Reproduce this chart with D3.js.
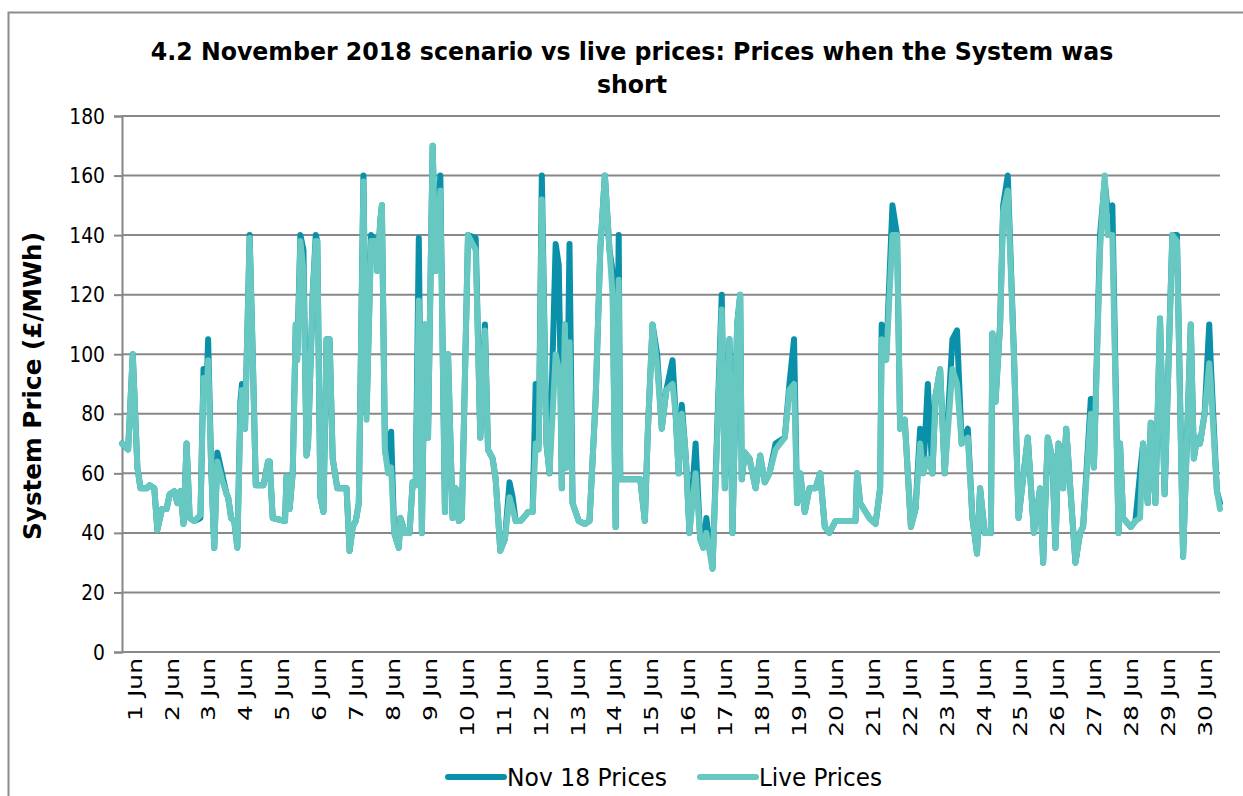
<!DOCTYPE html>
<html>
<head>
<meta charset="utf-8">
<script src="https://cdn.jsdelivr.net/npm/d3@7"></script>
<style>
  body { margin: 0; background: #fff; }
  svg text { font-family: Verdana, "DejaVu Sans", sans-serif; fill: #000; }
</style>
</head>
<body>
<div id="chart"></div>
<script>
// hours since 1 Jun 00:00
const hours = [0,4,7,10,12,16,18,21,23,26,29,31,34,36,38,40,42,44,47,51,53,55,56,58,60,62,65,68,69,71,73,75,77,78,80,83,85,87,92,95,96,98,106,107,109,111,113,114,116,118,120,121,124,126,127,129,131,133,135,137,140,146,148,150,152,154,157,159,162,165,166,168,169,171,173,175,177,180,181,184,187,189,191,193,195,197,199,202,204,207,210,212,215,217,219,221,225,230,233,236,238,241,243,246,249,252,254,256,259,261,264,267,269,271,273,276,278,282,284,285,286,288,289,291,293,297,301,304,308,311,314,317,319,321,323,324,337,340,342,345,348,351,354,358,360,362,364,366,367,369,373,376,378,380,384,390,392,395,397,400,402,403,405,408,412,415,418,421,425,431,434,437,439,441,444,447,451,454,457,460,464,477,478,480,486,490,493,494,497,501,504,506,509,513,516,519,521,524,527,529,532,535,540,543,546,550,553,556,558,561,565,566,568,571,573,576,580,583,589,593,597,599,602,605,607,609,612,614,620,623,625,630,632,636,639,641,644,648,649,651,656,659,662,664,667,669,672,675,678,683,686,690,695,697,699,701,704,707,708,712,714];

const nov18Prices = [70,68,100,62,55,55,56,55,41,48,48,53,54,50,54,43,70,45,44,45,95,88,105,62,35,67,60,53,52,45,44,35,84,90,75,140,100,56,56,64,64,45,44,59,48,60,110,100,140,135,66,70,120,140,138,52,47,105,105,65,55,55,34,42,44,50,160,80,140,138,128,145,150,68,62,74,40,35,45,40,40,57,56,139,40,110,72,170,128,160,47,100,45,55,44,45,140,139,72,110,68,65,58,34,38,57,52,44,44,45,47,47,90,70,160,70,60,137,130,100,55,110,62,137,50,44,43,44,85,135,160,135,128,42,140,58,58,44,75,110,100,75,88,98,80,60,83,70,62,40,70,38,35,45,28,120,55,105,40,110,120,58,67,65,55,66,57,60,70,72,90,105,50,60,47,55,55,60,42,40,44,44,60,50,45,43,55,110,100,150,140,75,78,42,48,75,60,90,60,86,95,60,105,108,70,75,45,33,55,40,40,107,84,110,150,160,100,45,72,40,55,30,72,65,35,70,55,75,30,40,42,85,62,140,158,148,150,40,70,45,42,44,60,70,50,77,50,112,53,140,140,32,110,65,72,70,80,110,97,54,50];

const livePrices = [70,68,100,62,55,55,56,55,41,48,48,53,54,50,54,43,70,45,44,46,92,86,98,62,35,64,58,53,52,45,44,35,80,88,75,139,100,56,56,64,64,45,44,59,48,60,110,98,138,128,66,70,120,138,138,52,47,105,105,65,55,55,34,42,44,50,158,78,138,138,128,145,150,68,60,62,40,35,45,40,40,57,56,118,40,110,72,170,128,155,47,100,45,55,44,45,140,135,72,108,68,65,58,34,38,52,48,44,44,45,47,47,70,68,152,70,60,100,95,90,55,110,62,104,50,44,43,44,85,135,160,135,120,42,125,58,58,44,75,110,96,75,88,90,80,60,80,70,62,40,60,38,35,40,28,115,55,105,40,110,120,58,67,65,55,66,57,60,68,72,88,90,50,60,47,55,55,60,42,40,44,44,60,50,45,43,55,105,98,140,140,75,78,42,48,70,60,65,60,86,95,60,95,90,70,72,45,33,55,40,40,107,84,110,148,155,100,45,72,40,55,30,72,65,35,70,55,75,30,40,42,80,62,135,160,140,140,40,70,45,42,44,45,70,50,77,50,112,53,140,138,32,110,65,72,70,80,97,90,54,48];

const dayLabels = ["1 Jun","2 Jun","3 Jun","4 Jun","5 Jun","6 Jun","7 Jun","8 Jun","9 Jun","10 Jun","11 Jun","12 Jun","13 Jun","14 Jun","15 Jun","16 Jun","17 Jun","18 Jun","19 Jun","20 Jun","21 Jun","22 Jun","23 Jun","24 Jun","25 Jun","26 Jun","27 Jun","28 Jun","29 Jun","30 Jun"];
const yTicks = [0,20,40,60,80,100,120,140,160,180];

const seriesNames = ["Nov 18 Prices", "Live Prices"];
const seriesColors = ["#0a91a9", "#66c8c1"];

const W = 1243, H = 796;
const margin = { top: 116, right: 23, bottom: 144, left: 122 };
const width = W - margin.left - margin.right,
      height = H - margin.top - margin.bottom;

const svg = d3.select("#chart").append("svg")
    .attr("width", W)
    .attr("height", H);

// outer frame
svg.append("path")
    .attr("d", `M8.5,${H} V12.5 H${W}`)
    .attr("fill", "none")
    .attr("stroke", "#8c8c8c")
    .attr("stroke-width", 2);

const g = svg.append("g")
    .attr("transform", `translate(${margin.left},${margin.top})`);

const x = d3.scaleLinear().domain([0, 714]).range([0, width]);
const y = d3.scaleLinear().domain([0, 180]).range([height, 0]);

// the source picture is squeezed sideways, text looks narrow
const squeeze = 0.85;

// grid + y axis
const yAxis = g.append("g")
    .call(d3.axisLeft(y).tickValues(yTicks).tickSize(8).tickPadding(0))
    .call(a => a.select(".domain").attr("stroke", "#868686").attr("stroke-width", 2));
yAxis.selectAll(".tick line").attr("stroke", "#868686").attr("stroke-width", 2);
yAxis.selectAll(".tick text")
    .style("font-size", "22px")
    .attr("x", 0)
    .attr("transform", `translate(-17,0) scale(${squeeze},1)`);

g.append("g")
    .selectAll("line")
    .data(yTicks)
    .enter().append("line")
    .attr("x1", 0)
    .attr("x2", width)
    .attr("y1", d => y(d))
    .attr("y2", d => y(d))
    .attr("stroke", "#888")
    .attr("stroke-width", 2);

// x axis: one label per day
const dayTicks = dayLabels.map((d, i) => i * 24 + 8);
const xAxis = g.append("g")
    .attr("transform", `translate(0,${height})`)
    .call(d3.axisBottom(x).tickValues(dayTicks).tickSize(0).tickPadding(0)
        .tickFormat((d, i) => dayLabels[i]));
xAxis.select(".domain").remove();
xAxis.selectAll(".tick text")
    .style("font-size", "25px")
    .attr("y", 0)
    .attr("text-anchor", "end")
    .attr("dy", "0.35em")
    .attr("transform", `translate(0,6) scale(0.78,1) rotate(-90)`);

// lines
const line = d3.line()
    .x((d, i) => x(hours[i]))
    .y(d => y(d));

[nov18Prices, livePrices].forEach((vals, k) => {
    g.append("path")
        .datum(vals)
        .attr("fill", "none")
        .attr("stroke", seriesColors[k])
        .attr("stroke-width", 6)
        .attr("stroke-linejoin", "round")
        .attr("stroke-linecap", "round")
        .attr("d", line);
});

// horizontal text squeezed to a given width
function squeezeText(sel, cx, cy, targetWidth, fontSize) {
    sel.style("font-size", fontSize + "px")
        .attr("x", 0).attr("y", 0)
        .attr("text-anchor", "middle");
    const w = sel.node().getComputedTextLength();
    sel.attr("transform", `translate(${cx},${cy}) scale(${(targetWidth / w).toFixed(4)},1)`);
    return targetWidth / w;
}

const t1 = svg.append("text")
    .style("font-weight", "bold")
    .text("4.2 November 2018 scenario vs live prices: Prices when the System was");
const ts = squeezeText(t1, 632, 60, 963, 24);
svg.append("text")
    .style("font-weight", "bold")
    .style("font-size", "24px")
    .attr("text-anchor", "middle")
    .attr("transform", `translate(632,93) scale(${ts.toFixed(4)},1)`)
    .text("short");

const yl = svg.append("text")
    .attr("transform", "translate(41,386) rotate(-90)")
    .attr("text-anchor", "middle")
    .style("font-weight", "bold")
    .style("font-size", "22px")
    .text("System Price (£/MWh)");
const ylw = yl.node().getComputedTextLength();
yl.style("font-size", (22 * 308 / ylw).toFixed(2) + "px");

// legend
const legendItems = [
    { name: seriesNames[0], color: seriesColors[0], x: 448, w: 160 },
    { name: seriesNames[1], color: seriesColors[1], x: 700, w: 123 }
];
const lg = svg.append("g");
legendItems.forEach(it => {
    lg.append("line")
        .attr("x1", it.x).attr("x2", it.x + 56)
        .attr("y1", 777).attr("y2", 777)
        .attr("stroke", it.color)
        .attr("stroke-width", 6)
        .attr("stroke-linecap", "round");
    const t = lg.append("text").text(it.name);
    t.style("font-size", "24px").attr("y", 0).attr("x", 0);
    const w = t.node().getComputedTextLength();
    t.attr("transform", `translate(${it.x + 59},786) scale(${(it.w / w).toFixed(4)},1)`);
});
</script>
</body>
</html>
